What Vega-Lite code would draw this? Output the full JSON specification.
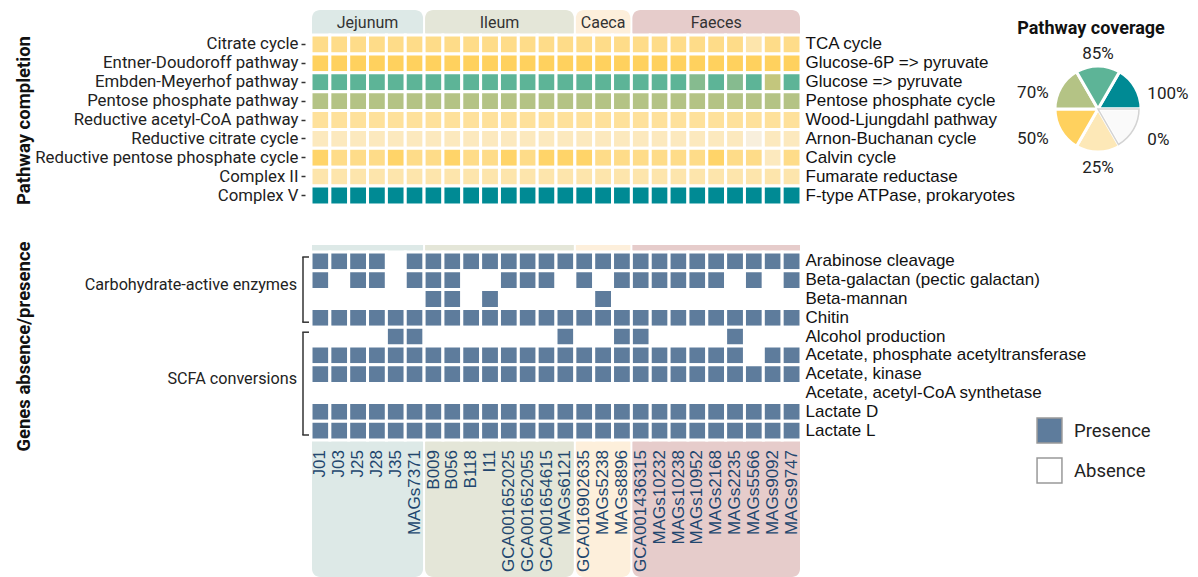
{
"$schema": "https://vega.github.io/schema/vega-lite/v6.json",
"padding": {"left": 14, "top": 10, "right": 0, "bottom": 0},
"bounds": "flush",
"spacing": 707,
"config": {"view": {"stroke": null}, "axis": {"grid": false, "domain": false}, "font": "Roboto"},
"datasets": {
"groups": [
{"grp":"Jejunum","start":"J01","end":"MAGs7371","mid":"J25","even":true},
{"grp":"Ileum","start":"B009","end":"MAGs6121","mid":"I11","even":true},
{"grp":"Caeca","start":"GCA016902635","end":"MAGs8896","mid":"MAGs5238","even":false},
{"grp":"Faeces","start":"GCA001436315","end":"MAGs9747","mid":"MAGs2168","even":false}],
"samples": [{"s":"J01"},{"s":"J03"},{"s":"J25"},{"s":"J28"},{"s":"J35"},{"s":"MAGs7371"},{"s":"B009"},{"s":"B056"},{"s":"B118"},{"s":"I11"},{"s":"GCA001652025"},{"s":"GCA001652055"},{"s":"GCA001654615"},{"s":"MAGs6121"},{"s":"GCA016902635"},{"s":"MAGs5238"},{"s":"MAGs8896"},{"s":"GCA001436315"},{"s":"MAGs10232"},{"s":"MAGs10238"},{"s":"MAGs10952"},{"s":"MAGs2168"},{"s":"MAGs2235"},{"s":"MAGs5566"},{"s":"MAGs9092"},{"s":"MAGs9747"}],
"mods": [{"m":"TCA cycle"},{"m":"Glucose-6P => pyruvate"},{"m":"Glucose => pyruvate"},{"m":"Pentose phosphate cycle"},{"m":"Wood-Ljungdahl pathway"},{"m":"Arnon-Buchanan cycle"},{"m":"Calvin cycle"},{"m":"Fumarate reductase"},{"m":"F-type ATPase, prokaryotes"}],
"brackets": [
{"grp":"Carbohydrate-active enzymes","first":"Arabinose cleavage","last":"Chitin","mid":"Beta-galactan (pectic galactan)"},
{"grp":"SCFA conversions","first":"Alcohol production","last":"Lactate L","mid":"Acetate, kinase"}],
"pie": [{"level":"100%","n":1},{"level":"0%","n":1},{"level":"25%","n":1},{"level":"50%","n":1},{"level":"70%","n":1},{"level":"85%","n":1}],
"heat": [
{"s":"J01","p":"Citrate cycle","v":38},{"s":"J03","p":"Citrate cycle","v":38},{"s":"J25","p":"Citrate cycle","v":38},{"s":"J28","p":"Citrate cycle","v":38},{"s":"J35","p":"Citrate cycle","v":38},{"s":"MAGs7371","p":"Citrate cycle","v":38},{"s":"B009","p":"Citrate cycle","v":38},{"s":"B056","p":"Citrate cycle","v":38},{"s":"B118","p":"Citrate cycle","v":38},{"s":"I11","p":"Citrate cycle","v":38},{"s":"GCA001652025","p":"Citrate cycle","v":38},{"s":"GCA001652055","p":"Citrate cycle","v":38},{"s":"GCA001654615","p":"Citrate cycle","v":38},{"s":"MAGs6121","p":"Citrate cycle","v":38},{"s":"GCA016902635","p":"Citrate cycle","v":38},{"s":"MAGs5238","p":"Citrate cycle","v":38},{"s":"MAGs8896","p":"Citrate cycle","v":38},{"s":"GCA001436315","p":"Citrate cycle","v":38},{"s":"MAGs10232","p":"Citrate cycle","v":38},{"s":"MAGs10238","p":"Citrate cycle","v":38},{"s":"MAGs10952","p":"Citrate cycle","v":38},{"s":"MAGs2168","p":"Citrate cycle","v":38},{"s":"MAGs2235","p":"Citrate cycle","v":38},{"s":"MAGs5566","p":"Citrate cycle","v":28},{"s":"MAGs9092","p":"Citrate cycle","v":38},{"s":"MAGs9747","p":"Citrate cycle","v":38},
{"s":"J01","p":"Entner-Doudoroff pathway","v":50},{"s":"J03","p":"Entner-Doudoroff pathway","v":50},{"s":"J25","p":"Entner-Doudoroff pathway","v":50},{"s":"J28","p":"Entner-Doudoroff pathway","v":50},{"s":"J35","p":"Entner-Doudoroff pathway","v":50},{"s":"MAGs7371","p":"Entner-Doudoroff pathway","v":50},{"s":"B009","p":"Entner-Doudoroff pathway","v":50},{"s":"B056","p":"Entner-Doudoroff pathway","v":50},{"s":"B118","p":"Entner-Doudoroff pathway","v":50},{"s":"I11","p":"Entner-Doudoroff pathway","v":50},{"s":"GCA001652025","p":"Entner-Doudoroff pathway","v":50},{"s":"GCA001652055","p":"Entner-Doudoroff pathway","v":50},{"s":"GCA001654615","p":"Entner-Doudoroff pathway","v":50},{"s":"MAGs6121","p":"Entner-Doudoroff pathway","v":50},{"s":"GCA016902635","p":"Entner-Doudoroff pathway","v":50},{"s":"MAGs5238","p":"Entner-Doudoroff pathway","v":50},{"s":"MAGs8896","p":"Entner-Doudoroff pathway","v":50},{"s":"GCA001436315","p":"Entner-Doudoroff pathway","v":50},{"s":"MAGs10232","p":"Entner-Doudoroff pathway","v":50},{"s":"MAGs10238","p":"Entner-Doudoroff pathway","v":50},{"s":"MAGs10952","p":"Entner-Doudoroff pathway","v":50},{"s":"MAGs2168","p":"Entner-Doudoroff pathway","v":50},{"s":"MAGs2235","p":"Entner-Doudoroff pathway","v":50},{"s":"MAGs5566","p":"Entner-Doudoroff pathway","v":50},{"s":"MAGs9092","p":"Entner-Doudoroff pathway","v":50},{"s":"MAGs9747","p":"Entner-Doudoroff pathway","v":50},
{"s":"J01","p":"Embden-Meyerhof pathway","v":85},{"s":"J03","p":"Embden-Meyerhof pathway","v":85},{"s":"J25","p":"Embden-Meyerhof pathway","v":85},{"s":"J28","p":"Embden-Meyerhof pathway","v":85},{"s":"J35","p":"Embden-Meyerhof pathway","v":85},{"s":"MAGs7371","p":"Embden-Meyerhof pathway","v":85},{"s":"B009","p":"Embden-Meyerhof pathway","v":85},{"s":"B056","p":"Embden-Meyerhof pathway","v":85},{"s":"B118","p":"Embden-Meyerhof pathway","v":85},{"s":"I11","p":"Embden-Meyerhof pathway","v":85},{"s":"GCA001652025","p":"Embden-Meyerhof pathway","v":85},{"s":"GCA001652055","p":"Embden-Meyerhof pathway","v":85},{"s":"GCA001654615","p":"Embden-Meyerhof pathway","v":85},{"s":"MAGs6121","p":"Embden-Meyerhof pathway","v":85},{"s":"GCA016902635","p":"Embden-Meyerhof pathway","v":85},{"s":"MAGs5238","p":"Embden-Meyerhof pathway","v":85},{"s":"MAGs8896","p":"Embden-Meyerhof pathway","v":85},{"s":"GCA001436315","p":"Embden-Meyerhof pathway","v":85},{"s":"MAGs10232","p":"Embden-Meyerhof pathway","v":85},{"s":"MAGs10238","p":"Embden-Meyerhof pathway","v":85},{"s":"MAGs10952","p":"Embden-Meyerhof pathway","v":78},{"s":"MAGs2168","p":"Embden-Meyerhof pathway","v":85},{"s":"MAGs2235","p":"Embden-Meyerhof pathway","v":78},{"s":"MAGs5566","p":"Embden-Meyerhof pathway","v":85},{"s":"MAGs9092","p":"Embden-Meyerhof pathway","v":66},{"s":"MAGs9747","p":"Embden-Meyerhof pathway","v":85},
{"s":"J01","p":"Pentose phosphate pathway","v":70},{"s":"J03","p":"Pentose phosphate pathway","v":70},{"s":"J25","p":"Pentose phosphate pathway","v":70},{"s":"J28","p":"Pentose phosphate pathway","v":70},{"s":"J35","p":"Pentose phosphate pathway","v":70},{"s":"MAGs7371","p":"Pentose phosphate pathway","v":70},{"s":"B009","p":"Pentose phosphate pathway","v":70},{"s":"B056","p":"Pentose phosphate pathway","v":70},{"s":"B118","p":"Pentose phosphate pathway","v":70},{"s":"I11","p":"Pentose phosphate pathway","v":70},{"s":"GCA001652025","p":"Pentose phosphate pathway","v":70},{"s":"GCA001652055","p":"Pentose phosphate pathway","v":70},{"s":"GCA001654615","p":"Pentose phosphate pathway","v":70},{"s":"MAGs6121","p":"Pentose phosphate pathway","v":70},{"s":"GCA016902635","p":"Pentose phosphate pathway","v":70},{"s":"MAGs5238","p":"Pentose phosphate pathway","v":70},{"s":"MAGs8896","p":"Pentose phosphate pathway","v":70},{"s":"GCA001436315","p":"Pentose phosphate pathway","v":70},{"s":"MAGs10232","p":"Pentose phosphate pathway","v":70},{"s":"MAGs10238","p":"Pentose phosphate pathway","v":70},{"s":"MAGs10952","p":"Pentose phosphate pathway","v":70},{"s":"MAGs2168","p":"Pentose phosphate pathway","v":70},{"s":"MAGs2235","p":"Pentose phosphate pathway","v":70},{"s":"MAGs5566","p":"Pentose phosphate pathway","v":70},{"s":"MAGs9092","p":"Pentose phosphate pathway","v":70},{"s":"MAGs9747","p":"Pentose phosphate pathway","v":70},
{"s":"J01","p":"Reductive acetyl-CoA pathway","v":33},{"s":"J03","p":"Reductive acetyl-CoA pathway","v":33},{"s":"J25","p":"Reductive acetyl-CoA pathway","v":33},{"s":"J28","p":"Reductive acetyl-CoA pathway","v":33},{"s":"J35","p":"Reductive acetyl-CoA pathway","v":33},{"s":"MAGs7371","p":"Reductive acetyl-CoA pathway","v":33},{"s":"B009","p":"Reductive acetyl-CoA pathway","v":33},{"s":"B056","p":"Reductive acetyl-CoA pathway","v":33},{"s":"B118","p":"Reductive acetyl-CoA pathway","v":33},{"s":"I11","p":"Reductive acetyl-CoA pathway","v":33},{"s":"GCA001652025","p":"Reductive acetyl-CoA pathway","v":33},{"s":"GCA001652055","p":"Reductive acetyl-CoA pathway","v":33},{"s":"GCA001654615","p":"Reductive acetyl-CoA pathway","v":33},{"s":"MAGs6121","p":"Reductive acetyl-CoA pathway","v":33},{"s":"GCA016902635","p":"Reductive acetyl-CoA pathway","v":33},{"s":"MAGs5238","p":"Reductive acetyl-CoA pathway","v":33},{"s":"MAGs8896","p":"Reductive acetyl-CoA pathway","v":33},{"s":"GCA001436315","p":"Reductive acetyl-CoA pathway","v":33},{"s":"MAGs10232","p":"Reductive acetyl-CoA pathway","v":33},{"s":"MAGs10238","p":"Reductive acetyl-CoA pathway","v":33},{"s":"MAGs10952","p":"Reductive acetyl-CoA pathway","v":33},{"s":"MAGs2168","p":"Reductive acetyl-CoA pathway","v":33},{"s":"MAGs2235","p":"Reductive acetyl-CoA pathway","v":33},{"s":"MAGs5566","p":"Reductive acetyl-CoA pathway","v":33},{"s":"MAGs9092","p":"Reductive acetyl-CoA pathway","v":33},{"s":"MAGs9747","p":"Reductive acetyl-CoA pathway","v":33},
{"s":"J01","p":"Reductive citrate cycle","v":22},{"s":"J03","p":"Reductive citrate cycle","v":22},{"s":"J25","p":"Reductive citrate cycle","v":22},{"s":"J28","p":"Reductive citrate cycle","v":22},{"s":"J35","p":"Reductive citrate cycle","v":22},{"s":"MAGs7371","p":"Reductive citrate cycle","v":22},{"s":"B009","p":"Reductive citrate cycle","v":22},{"s":"B056","p":"Reductive citrate cycle","v":22},{"s":"B118","p":"Reductive citrate cycle","v":22},{"s":"I11","p":"Reductive citrate cycle","v":22},{"s":"GCA001652025","p":"Reductive citrate cycle","v":22},{"s":"GCA001652055","p":"Reductive citrate cycle","v":22},{"s":"GCA001654615","p":"Reductive citrate cycle","v":22},{"s":"MAGs6121","p":"Reductive citrate cycle","v":22},{"s":"GCA016902635","p":"Reductive citrate cycle","v":22},{"s":"MAGs5238","p":"Reductive citrate cycle","v":22},{"s":"MAGs8896","p":"Reductive citrate cycle","v":22},{"s":"GCA001436315","p":"Reductive citrate cycle","v":22},{"s":"MAGs10232","p":"Reductive citrate cycle","v":22},{"s":"MAGs10238","p":"Reductive citrate cycle","v":22},{"s":"MAGs10952","p":"Reductive citrate cycle","v":22},{"s":"MAGs2168","p":"Reductive citrate cycle","v":22},{"s":"MAGs2235","p":"Reductive citrate cycle","v":22},{"s":"MAGs5566","p":"Reductive citrate cycle","v":10},{"s":"MAGs9092","p":"Reductive citrate cycle","v":22},{"s":"MAGs9747","p":"Reductive citrate cycle","v":22},
{"s":"J01","p":"Reductive pentose phosphate cycle","v":47},{"s":"J03","p":"Reductive pentose phosphate cycle","v":38},{"s":"J25","p":"Reductive pentose phosphate cycle","v":38},{"s":"J28","p":"Reductive pentose phosphate cycle","v":38},{"s":"J35","p":"Reductive pentose phosphate cycle","v":47},{"s":"MAGs7371","p":"Reductive pentose phosphate cycle","v":38},{"s":"B009","p":"Reductive pentose phosphate cycle","v":38},{"s":"B056","p":"Reductive pentose phosphate cycle","v":47},{"s":"B118","p":"Reductive pentose phosphate cycle","v":38},{"s":"I11","p":"Reductive pentose phosphate cycle","v":38},{"s":"GCA001652025","p":"Reductive pentose phosphate cycle","v":47},{"s":"GCA001652055","p":"Reductive pentose phosphate cycle","v":38},{"s":"GCA001654615","p":"Reductive pentose phosphate cycle","v":47},{"s":"MAGs6121","p":"Reductive pentose phosphate cycle","v":47},{"s":"GCA016902635","p":"Reductive pentose phosphate cycle","v":47},{"s":"MAGs5238","p":"Reductive pentose phosphate cycle","v":38},{"s":"MAGs8896","p":"Reductive pentose phosphate cycle","v":38},{"s":"GCA001436315","p":"Reductive pentose phosphate cycle","v":38},{"s":"MAGs10232","p":"Reductive pentose phosphate cycle","v":38},{"s":"MAGs10238","p":"Reductive pentose phosphate cycle","v":38},{"s":"MAGs10952","p":"Reductive pentose phosphate cycle","v":38},{"s":"MAGs2168","p":"Reductive pentose phosphate cycle","v":47},{"s":"MAGs2235","p":"Reductive pentose phosphate cycle","v":38},{"s":"MAGs5566","p":"Reductive pentose phosphate cycle","v":38},{"s":"MAGs9092","p":"Reductive pentose phosphate cycle","v":22},{"s":"MAGs9747","p":"Reductive pentose phosphate cycle","v":38},
{"s":"J01","p":"Complex II","v":28},{"s":"J03","p":"Complex II","v":28},{"s":"J25","p":"Complex II","v":28},{"s":"J28","p":"Complex II","v":28},{"s":"J35","p":"Complex II","v":28},{"s":"MAGs7371","p":"Complex II","v":28},{"s":"B009","p":"Complex II","v":28},{"s":"B056","p":"Complex II","v":28},{"s":"B118","p":"Complex II","v":28},{"s":"I11","p":"Complex II","v":28},{"s":"GCA001652025","p":"Complex II","v":28},{"s":"GCA001652055","p":"Complex II","v":28},{"s":"GCA001654615","p":"Complex II","v":28},{"s":"MAGs6121","p":"Complex II","v":28},{"s":"GCA016902635","p":"Complex II","v":28},{"s":"MAGs5238","p":"Complex II","v":28},{"s":"MAGs8896","p":"Complex II","v":28},{"s":"GCA001436315","p":"Complex II","v":28},{"s":"MAGs10232","p":"Complex II","v":28},{"s":"MAGs10238","p":"Complex II","v":28},{"s":"MAGs10952","p":"Complex II","v":28},{"s":"MAGs2168","p":"Complex II","v":28},{"s":"MAGs2235","p":"Complex II","v":28},{"s":"MAGs5566","p":"Complex II","v":28},{"s":"MAGs9092","p":"Complex II","v":28},{"s":"MAGs9747","p":"Complex II","v":28},
{"s":"J01","p":"Complex V","v":100},{"s":"J03","p":"Complex V","v":100},{"s":"J25","p":"Complex V","v":100},{"s":"J28","p":"Complex V","v":100},{"s":"J35","p":"Complex V","v":100},{"s":"MAGs7371","p":"Complex V","v":100},{"s":"B009","p":"Complex V","v":100},{"s":"B056","p":"Complex V","v":100},{"s":"B118","p":"Complex V","v":100},{"s":"I11","p":"Complex V","v":100},{"s":"GCA001652025","p":"Complex V","v":100},{"s":"GCA001652055","p":"Complex V","v":100},{"s":"GCA001654615","p":"Complex V","v":100},{"s":"MAGs6121","p":"Complex V","v":100},{"s":"GCA016902635","p":"Complex V","v":100},{"s":"MAGs5238","p":"Complex V","v":100},{"s":"MAGs8896","p":"Complex V","v":100},{"s":"GCA001436315","p":"Complex V","v":100},{"s":"MAGs10232","p":"Complex V","v":100},{"s":"MAGs10238","p":"Complex V","v":100},{"s":"MAGs10952","p":"Complex V","v":100},{"s":"MAGs2168","p":"Complex V","v":100},{"s":"MAGs2235","p":"Complex V","v":100},{"s":"MAGs5566","p":"Complex V","v":100},{"s":"MAGs9092","p":"Complex V","v":100},{"s":"MAGs9747","p":"Complex V","v":100}
],
"genes": [
{"s":"J01","g":"Arabinose cleavage","st":"Presence"},{"s":"J03","g":"Arabinose cleavage","st":"Presence"},{"s":"J25","g":"Arabinose cleavage","st":"Presence"},{"s":"J28","g":"Arabinose cleavage","st":"Presence"},{"s":"J35","g":"Arabinose cleavage","st":"Absence"},{"s":"MAGs7371","g":"Arabinose cleavage","st":"Presence"},{"s":"B009","g":"Arabinose cleavage","st":"Presence"},{"s":"B056","g":"Arabinose cleavage","st":"Presence"},{"s":"B118","g":"Arabinose cleavage","st":"Presence"},{"s":"I11","g":"Arabinose cleavage","st":"Presence"},{"s":"GCA001652025","g":"Arabinose cleavage","st":"Presence"},{"s":"GCA001652055","g":"Arabinose cleavage","st":"Presence"},{"s":"GCA001654615","g":"Arabinose cleavage","st":"Presence"},{"s":"MAGs6121","g":"Arabinose cleavage","st":"Presence"},{"s":"GCA016902635","g":"Arabinose cleavage","st":"Presence"},{"s":"MAGs5238","g":"Arabinose cleavage","st":"Presence"},{"s":"MAGs8896","g":"Arabinose cleavage","st":"Presence"},{"s":"GCA001436315","g":"Arabinose cleavage","st":"Presence"},{"s":"MAGs10232","g":"Arabinose cleavage","st":"Presence"},{"s":"MAGs10238","g":"Arabinose cleavage","st":"Presence"},{"s":"MAGs10952","g":"Arabinose cleavage","st":"Presence"},{"s":"MAGs2168","g":"Arabinose cleavage","st":"Presence"},{"s":"MAGs2235","g":"Arabinose cleavage","st":"Presence"},{"s":"MAGs5566","g":"Arabinose cleavage","st":"Presence"},{"s":"MAGs9092","g":"Arabinose cleavage","st":"Presence"},{"s":"MAGs9747","g":"Arabinose cleavage","st":"Presence"},
{"s":"J01","g":"Beta-galactan (pectic galactan)","st":"Presence"},{"s":"J03","g":"Beta-galactan (pectic galactan)","st":"Absence"},{"s":"J25","g":"Beta-galactan (pectic galactan)","st":"Presence"},{"s":"J28","g":"Beta-galactan (pectic galactan)","st":"Presence"},{"s":"J35","g":"Beta-galactan (pectic galactan)","st":"Absence"},{"s":"MAGs7371","g":"Beta-galactan (pectic galactan)","st":"Presence"},{"s":"B009","g":"Beta-galactan (pectic galactan)","st":"Presence"},{"s":"B056","g":"Beta-galactan (pectic galactan)","st":"Presence"},{"s":"B118","g":"Beta-galactan (pectic galactan)","st":"Absence"},{"s":"I11","g":"Beta-galactan (pectic galactan)","st":"Absence"},{"s":"GCA001652025","g":"Beta-galactan (pectic galactan)","st":"Presence"},{"s":"GCA001652055","g":"Beta-galactan (pectic galactan)","st":"Presence"},{"s":"GCA001654615","g":"Beta-galactan (pectic galactan)","st":"Presence"},{"s":"MAGs6121","g":"Beta-galactan (pectic galactan)","st":"Absence"},{"s":"GCA016902635","g":"Beta-galactan (pectic galactan)","st":"Presence"},{"s":"MAGs5238","g":"Beta-galactan (pectic galactan)","st":"Absence"},{"s":"MAGs8896","g":"Beta-galactan (pectic galactan)","st":"Presence"},{"s":"GCA001436315","g":"Beta-galactan (pectic galactan)","st":"Presence"},{"s":"MAGs10232","g":"Beta-galactan (pectic galactan)","st":"Presence"},{"s":"MAGs10238","g":"Beta-galactan (pectic galactan)","st":"Presence"},{"s":"MAGs10952","g":"Beta-galactan (pectic galactan)","st":"Presence"},{"s":"MAGs2168","g":"Beta-galactan (pectic galactan)","st":"Presence"},{"s":"MAGs2235","g":"Beta-galactan (pectic galactan)","st":"Absence"},{"s":"MAGs5566","g":"Beta-galactan (pectic galactan)","st":"Presence"},{"s":"MAGs9092","g":"Beta-galactan (pectic galactan)","st":"Absence"},{"s":"MAGs9747","g":"Beta-galactan (pectic galactan)","st":"Presence"},
{"s":"J01","g":"Beta-mannan","st":"Absence"},{"s":"J03","g":"Beta-mannan","st":"Absence"},{"s":"J25","g":"Beta-mannan","st":"Absence"},{"s":"J28","g":"Beta-mannan","st":"Absence"},{"s":"J35","g":"Beta-mannan","st":"Absence"},{"s":"MAGs7371","g":"Beta-mannan","st":"Absence"},{"s":"B009","g":"Beta-mannan","st":"Presence"},{"s":"B056","g":"Beta-mannan","st":"Presence"},{"s":"B118","g":"Beta-mannan","st":"Absence"},{"s":"I11","g":"Beta-mannan","st":"Presence"},{"s":"GCA001652025","g":"Beta-mannan","st":"Absence"},{"s":"GCA001652055","g":"Beta-mannan","st":"Absence"},{"s":"GCA001654615","g":"Beta-mannan","st":"Absence"},{"s":"MAGs6121","g":"Beta-mannan","st":"Absence"},{"s":"GCA016902635","g":"Beta-mannan","st":"Absence"},{"s":"MAGs5238","g":"Beta-mannan","st":"Presence"},{"s":"MAGs8896","g":"Beta-mannan","st":"Absence"},{"s":"GCA001436315","g":"Beta-mannan","st":"Absence"},{"s":"MAGs10232","g":"Beta-mannan","st":"Absence"},{"s":"MAGs10238","g":"Beta-mannan","st":"Absence"},{"s":"MAGs10952","g":"Beta-mannan","st":"Absence"},{"s":"MAGs2168","g":"Beta-mannan","st":"Absence"},{"s":"MAGs2235","g":"Beta-mannan","st":"Absence"},{"s":"MAGs5566","g":"Beta-mannan","st":"Absence"},{"s":"MAGs9092","g":"Beta-mannan","st":"Absence"},{"s":"MAGs9747","g":"Beta-mannan","st":"Absence"},
{"s":"J01","g":"Chitin","st":"Presence"},{"s":"J03","g":"Chitin","st":"Presence"},{"s":"J25","g":"Chitin","st":"Presence"},{"s":"J28","g":"Chitin","st":"Presence"},{"s":"J35","g":"Chitin","st":"Presence"},{"s":"MAGs7371","g":"Chitin","st":"Presence"},{"s":"B009","g":"Chitin","st":"Presence"},{"s":"B056","g":"Chitin","st":"Presence"},{"s":"B118","g":"Chitin","st":"Presence"},{"s":"I11","g":"Chitin","st":"Presence"},{"s":"GCA001652025","g":"Chitin","st":"Presence"},{"s":"GCA001652055","g":"Chitin","st":"Presence"},{"s":"GCA001654615","g":"Chitin","st":"Presence"},{"s":"MAGs6121","g":"Chitin","st":"Presence"},{"s":"GCA016902635","g":"Chitin","st":"Presence"},{"s":"MAGs5238","g":"Chitin","st":"Presence"},{"s":"MAGs8896","g":"Chitin","st":"Presence"},{"s":"GCA001436315","g":"Chitin","st":"Presence"},{"s":"MAGs10232","g":"Chitin","st":"Presence"},{"s":"MAGs10238","g":"Chitin","st":"Presence"},{"s":"MAGs10952","g":"Chitin","st":"Presence"},{"s":"MAGs2168","g":"Chitin","st":"Presence"},{"s":"MAGs2235","g":"Chitin","st":"Presence"},{"s":"MAGs5566","g":"Chitin","st":"Presence"},{"s":"MAGs9092","g":"Chitin","st":"Presence"},{"s":"MAGs9747","g":"Chitin","st":"Presence"},
{"s":"J01","g":"Alcohol production","st":"Absence"},{"s":"J03","g":"Alcohol production","st":"Absence"},{"s":"J25","g":"Alcohol production","st":"Absence"},{"s":"J28","g":"Alcohol production","st":"Absence"},{"s":"J35","g":"Alcohol production","st":"Presence"},{"s":"MAGs7371","g":"Alcohol production","st":"Presence"},{"s":"B009","g":"Alcohol production","st":"Absence"},{"s":"B056","g":"Alcohol production","st":"Absence"},{"s":"B118","g":"Alcohol production","st":"Absence"},{"s":"I11","g":"Alcohol production","st":"Absence"},{"s":"GCA001652025","g":"Alcohol production","st":"Absence"},{"s":"GCA001652055","g":"Alcohol production","st":"Absence"},{"s":"GCA001654615","g":"Alcohol production","st":"Absence"},{"s":"MAGs6121","g":"Alcohol production","st":"Presence"},{"s":"GCA016902635","g":"Alcohol production","st":"Absence"},{"s":"MAGs5238","g":"Alcohol production","st":"Absence"},{"s":"MAGs8896","g":"Alcohol production","st":"Presence"},{"s":"GCA001436315","g":"Alcohol production","st":"Presence"},{"s":"MAGs10232","g":"Alcohol production","st":"Absence"},{"s":"MAGs10238","g":"Alcohol production","st":"Absence"},{"s":"MAGs10952","g":"Alcohol production","st":"Absence"},{"s":"MAGs2168","g":"Alcohol production","st":"Absence"},{"s":"MAGs2235","g":"Alcohol production","st":"Presence"},{"s":"MAGs5566","g":"Alcohol production","st":"Absence"},{"s":"MAGs9092","g":"Alcohol production","st":"Absence"},{"s":"MAGs9747","g":"Alcohol production","st":"Absence"},
{"s":"J01","g":"Acetate, phosphate acetyltransferase","st":"Presence"},{"s":"J03","g":"Acetate, phosphate acetyltransferase","st":"Presence"},{"s":"J25","g":"Acetate, phosphate acetyltransferase","st":"Presence"},{"s":"J28","g":"Acetate, phosphate acetyltransferase","st":"Presence"},{"s":"J35","g":"Acetate, phosphate acetyltransferase","st":"Presence"},{"s":"MAGs7371","g":"Acetate, phosphate acetyltransferase","st":"Presence"},{"s":"B009","g":"Acetate, phosphate acetyltransferase","st":"Presence"},{"s":"B056","g":"Acetate, phosphate acetyltransferase","st":"Presence"},{"s":"B118","g":"Acetate, phosphate acetyltransferase","st":"Presence"},{"s":"I11","g":"Acetate, phosphate acetyltransferase","st":"Presence"},{"s":"GCA001652025","g":"Acetate, phosphate acetyltransferase","st":"Presence"},{"s":"GCA001652055","g":"Acetate, phosphate acetyltransferase","st":"Presence"},{"s":"GCA001654615","g":"Acetate, phosphate acetyltransferase","st":"Presence"},{"s":"MAGs6121","g":"Acetate, phosphate acetyltransferase","st":"Presence"},{"s":"GCA016902635","g":"Acetate, phosphate acetyltransferase","st":"Presence"},{"s":"MAGs5238","g":"Acetate, phosphate acetyltransferase","st":"Presence"},{"s":"MAGs8896","g":"Acetate, phosphate acetyltransferase","st":"Presence"},{"s":"GCA001436315","g":"Acetate, phosphate acetyltransferase","st":"Presence"},{"s":"MAGs10232","g":"Acetate, phosphate acetyltransferase","st":"Presence"},{"s":"MAGs10238","g":"Acetate, phosphate acetyltransferase","st":"Presence"},{"s":"MAGs10952","g":"Acetate, phosphate acetyltransferase","st":"Presence"},{"s":"MAGs2168","g":"Acetate, phosphate acetyltransferase","st":"Presence"},{"s":"MAGs2235","g":"Acetate, phosphate acetyltransferase","st":"Presence"},{"s":"MAGs5566","g":"Acetate, phosphate acetyltransferase","st":"Absence"},{"s":"MAGs9092","g":"Acetate, phosphate acetyltransferase","st":"Presence"},{"s":"MAGs9747","g":"Acetate, phosphate acetyltransferase","st":"Presence"},
{"s":"J01","g":"Acetate, kinase","st":"Presence"},{"s":"J03","g":"Acetate, kinase","st":"Presence"},{"s":"J25","g":"Acetate, kinase","st":"Presence"},{"s":"J28","g":"Acetate, kinase","st":"Presence"},{"s":"J35","g":"Acetate, kinase","st":"Presence"},{"s":"MAGs7371","g":"Acetate, kinase","st":"Presence"},{"s":"B009","g":"Acetate, kinase","st":"Presence"},{"s":"B056","g":"Acetate, kinase","st":"Presence"},{"s":"B118","g":"Acetate, kinase","st":"Presence"},{"s":"I11","g":"Acetate, kinase","st":"Presence"},{"s":"GCA001652025","g":"Acetate, kinase","st":"Presence"},{"s":"GCA001652055","g":"Acetate, kinase","st":"Presence"},{"s":"GCA001654615","g":"Acetate, kinase","st":"Presence"},{"s":"MAGs6121","g":"Acetate, kinase","st":"Presence"},{"s":"GCA016902635","g":"Acetate, kinase","st":"Presence"},{"s":"MAGs5238","g":"Acetate, kinase","st":"Presence"},{"s":"MAGs8896","g":"Acetate, kinase","st":"Presence"},{"s":"GCA001436315","g":"Acetate, kinase","st":"Presence"},{"s":"MAGs10232","g":"Acetate, kinase","st":"Presence"},{"s":"MAGs10238","g":"Acetate, kinase","st":"Presence"},{"s":"MAGs10952","g":"Acetate, kinase","st":"Presence"},{"s":"MAGs2168","g":"Acetate, kinase","st":"Presence"},{"s":"MAGs2235","g":"Acetate, kinase","st":"Presence"},{"s":"MAGs5566","g":"Acetate, kinase","st":"Presence"},{"s":"MAGs9092","g":"Acetate, kinase","st":"Presence"},{"s":"MAGs9747","g":"Acetate, kinase","st":"Presence"},
{"s":"J01","g":"Acetate, acetyl-CoA synthetase","st":"Absence"},{"s":"J03","g":"Acetate, acetyl-CoA synthetase","st":"Absence"},{"s":"J25","g":"Acetate, acetyl-CoA synthetase","st":"Absence"},{"s":"J28","g":"Acetate, acetyl-CoA synthetase","st":"Absence"},{"s":"J35","g":"Acetate, acetyl-CoA synthetase","st":"Absence"},{"s":"MAGs7371","g":"Acetate, acetyl-CoA synthetase","st":"Absence"},{"s":"B009","g":"Acetate, acetyl-CoA synthetase","st":"Absence"},{"s":"B056","g":"Acetate, acetyl-CoA synthetase","st":"Absence"},{"s":"B118","g":"Acetate, acetyl-CoA synthetase","st":"Absence"},{"s":"I11","g":"Acetate, acetyl-CoA synthetase","st":"Absence"},{"s":"GCA001652025","g":"Acetate, acetyl-CoA synthetase","st":"Absence"},{"s":"GCA001652055","g":"Acetate, acetyl-CoA synthetase","st":"Absence"},{"s":"GCA001654615","g":"Acetate, acetyl-CoA synthetase","st":"Absence"},{"s":"MAGs6121","g":"Acetate, acetyl-CoA synthetase","st":"Absence"},{"s":"GCA016902635","g":"Acetate, acetyl-CoA synthetase","st":"Absence"},{"s":"MAGs5238","g":"Acetate, acetyl-CoA synthetase","st":"Absence"},{"s":"MAGs8896","g":"Acetate, acetyl-CoA synthetase","st":"Absence"},{"s":"GCA001436315","g":"Acetate, acetyl-CoA synthetase","st":"Absence"},{"s":"MAGs10232","g":"Acetate, acetyl-CoA synthetase","st":"Absence"},{"s":"MAGs10238","g":"Acetate, acetyl-CoA synthetase","st":"Absence"},{"s":"MAGs10952","g":"Acetate, acetyl-CoA synthetase","st":"Absence"},{"s":"MAGs2168","g":"Acetate, acetyl-CoA synthetase","st":"Absence"},{"s":"MAGs2235","g":"Acetate, acetyl-CoA synthetase","st":"Absence"},{"s":"MAGs5566","g":"Acetate, acetyl-CoA synthetase","st":"Absence"},{"s":"MAGs9092","g":"Acetate, acetyl-CoA synthetase","st":"Absence"},{"s":"MAGs9747","g":"Acetate, acetyl-CoA synthetase","st":"Absence"},
{"s":"J01","g":"Lactate D","st":"Presence"},{"s":"J03","g":"Lactate D","st":"Presence"},{"s":"J25","g":"Lactate D","st":"Presence"},{"s":"J28","g":"Lactate D","st":"Presence"},{"s":"J35","g":"Lactate D","st":"Presence"},{"s":"MAGs7371","g":"Lactate D","st":"Presence"},{"s":"B009","g":"Lactate D","st":"Presence"},{"s":"B056","g":"Lactate D","st":"Presence"},{"s":"B118","g":"Lactate D","st":"Presence"},{"s":"I11","g":"Lactate D","st":"Presence"},{"s":"GCA001652025","g":"Lactate D","st":"Presence"},{"s":"GCA001652055","g":"Lactate D","st":"Presence"},{"s":"GCA001654615","g":"Lactate D","st":"Presence"},{"s":"MAGs6121","g":"Lactate D","st":"Presence"},{"s":"GCA016902635","g":"Lactate D","st":"Presence"},{"s":"MAGs5238","g":"Lactate D","st":"Presence"},{"s":"MAGs8896","g":"Lactate D","st":"Presence"},{"s":"GCA001436315","g":"Lactate D","st":"Presence"},{"s":"MAGs10232","g":"Lactate D","st":"Presence"},{"s":"MAGs10238","g":"Lactate D","st":"Presence"},{"s":"MAGs10952","g":"Lactate D","st":"Presence"},{"s":"MAGs2168","g":"Lactate D","st":"Presence"},{"s":"MAGs2235","g":"Lactate D","st":"Presence"},{"s":"MAGs5566","g":"Lactate D","st":"Presence"},{"s":"MAGs9092","g":"Lactate D","st":"Presence"},{"s":"MAGs9747","g":"Lactate D","st":"Presence"},
{"s":"J01","g":"Lactate L","st":"Presence"},{"s":"J03","g":"Lactate L","st":"Presence"},{"s":"J25","g":"Lactate L","st":"Presence"},{"s":"J28","g":"Lactate L","st":"Presence"},{"s":"J35","g":"Lactate L","st":"Presence"},{"s":"MAGs7371","g":"Lactate L","st":"Presence"},{"s":"B009","g":"Lactate L","st":"Presence"},{"s":"B056","g":"Lactate L","st":"Presence"},{"s":"B118","g":"Lactate L","st":"Presence"},{"s":"I11","g":"Lactate L","st":"Presence"},{"s":"GCA001652025","g":"Lactate L","st":"Presence"},{"s":"GCA001652055","g":"Lactate L","st":"Presence"},{"s":"GCA001654615","g":"Lactate L","st":"Presence"},{"s":"MAGs6121","g":"Lactate L","st":"Presence"},{"s":"GCA016902635","g":"Lactate L","st":"Presence"},{"s":"MAGs5238","g":"Lactate L","st":"Presence"},{"s":"MAGs8896","g":"Lactate L","st":"Presence"},{"s":"GCA001436315","g":"Lactate L","st":"Presence"},{"s":"MAGs10232","g":"Lactate L","st":"Presence"},{"s":"MAGs10238","g":"Lactate L","st":"Presence"},{"s":"MAGs10952","g":"Lactate L","st":"Presence"},{"s":"MAGs2168","g":"Lactate L","st":"Presence"},{"s":"MAGs2235","g":"Lactate L","st":"Presence"},{"s":"MAGs5566","g":"Lactate L","st":"Presence"},{"s":"MAGs9092","g":"Lactate L","st":"Presence"},{"s":"MAGs9747","g":"Lactate L","st":"Presence"}
]
},
"hconcat": [
{"bounds": "flush", "spacing": 0, "vconcat": [
  {"width": 490, "height": 25, "data": {"name": "groups"},
   "layer": [
    {"mark": {"type": "rect", "cornerRadiusTopLeft": 8, "cornerRadiusTopRight": 8, "xOffset": 1, "x2Offset": -1},
     "encoding": {
      "x": {"field": "start", "type": "nominal", "bandPosition": 0, "axis": null, "scale": {"domain": ["J01","J03","J25","J28","J35","MAGs7371","B009","B056","B118","I11","GCA001652025","GCA001652055","GCA001654615","MAGs6121","GCA016902635","MAGs5238","MAGs8896","GCA001436315","MAGs10232","MAGs10238","MAGs10952","MAGs2168","MAGs2235","MAGs5566","MAGs9092","MAGs9747"], "paddingInner": 0, "paddingOuter": 0}},
      "x2": {"field": "end", "bandPosition": 1},
      "fill": {"field": "grp", "type": "nominal", "legend": null, "scale": {"domain": ["Jejunum","Ileum","Caeca","Faeces"], "range": ["#dde9e7","#e4e6d8","#fdefdb","#e6cccb"]}}}},
    {"transform": [{"filter": "datum.even"}],
     "mark": {"type": "text", "font": "Roboto", "fontSize": 16, "color": "#333333"},
     "encoding": {
      "x": {"field": "mid", "type": "nominal", "bandPosition": 1, "axis": null},
      "text": {"field": "grp"}}},
    {"transform": [{"filter": "!datum.even"}],
     "mark": {"type": "text", "font": "Roboto", "fontSize": 16, "color": "#333333"},
     "encoding": {
      "x": {"field": "mid", "type": "nominal", "bandPosition": 0.5, "axis": null},
      "text": {"field": "grp"}}}
   ]},
  {"width": 490, "height": 170,
   "layer": [
    {"data": {"name": "heat"},
     "mark": {"type": "rect", "stroke": "white", "strokeWidth": 3},
     "encoding": {
      "x": {"field": "s", "type": "nominal", "axis": null, "scale": {"domain": ["J01","J03","J25","J28","J35","MAGs7371","B009","B056","B118","I11","GCA001652025","GCA001652055","GCA001654615","MAGs6121","GCA016902635","MAGs5238","MAGs8896","GCA001436315","MAGs10232","MAGs10238","MAGs10952","MAGs2168","MAGs2235","MAGs5566","MAGs9092","MAGs9747"], "paddingInner": 0, "paddingOuter": 0}},
      "y": {"field": "p", "type": "nominal", "scale": {"domain": ["Citrate cycle","Entner-Doudoroff pathway","Embden-Meyerhof pathway","Pentose phosphate pathway","Reductive acetyl-CoA pathway","Reductive citrate cycle","Reductive pentose phosphate cycle","Complex II","Complex V"], "paddingInner": 0, "paddingOuter": 0},
            "axis": {"orient": "left", "title": "Pathway completion", "titleFont": "Roboto", "titleFontSize": 18.5, "titleFontWeight": "bold", "titleColor": "#111111", "titlePadding": 4, "minExtent": 268, "maxExtent": 268, "offset": 6, "ticks": true, "tickSize": 4, "tickWidth": 1.5, "tickColor": "#333333", "labelPadding": 3, "labelFont": "Roboto", "labelFontSize": 16.8, "labelColor": "#222222", "labelLimit": 400, "domain": false}},
      "fill": {"field": "v", "type": "quantitative", "legend": null, "scale": {"domain": [0,25,50,70,85,100], "range": ["#f4f4f4","#fde8b7","#ffd15e","#b4c385","#5db497","#008a94"], "interpolate": "rgb"}}}},
    {"data": {"name": "mods"},
     "mark": {"type": "rect", "opacity": 0},
     "encoding": {
      "y": {"field": "m", "type": "nominal", "scale": {"domain": ["TCA cycle","Glucose-6P => pyruvate","Glucose => pyruvate","Pentose phosphate cycle","Wood-Ljungdahl pathway","Arnon-Buchanan cycle","Calvin cycle","Fumarate reductase","F-type ATPase, prokaryotes"], "paddingInner": 0, "paddingOuter": 0},
            "axis": {"orient": "right", "title": null, "ticks": false, "domain": false, "labelPadding": 4, "labelFont": "Liberation Sans", "labelFontSize": 17, "labelColor": "#111111", "labelLimit": 400}}}}
   ],
   "resolve": {"scale": {"y": "independent"}, "axis": {"y": "independent"}}},
  {"width": 490, "height": 40, "data": {"values": [{}]}, "mark": {"type": "point", "opacity": 0}},
  {"width": 490, "height": 202,
   "layer": [
    {"data": {"name": "groups"},
     "mark": {"type": "rect", "xOffset": 1, "x2Offset": -1},
     "encoding": {
      "x": {"field": "start", "type": "nominal", "bandPosition": 0, "axis": null, "scale": {"domain": ["J01","J03","J25","J28","J35","MAGs7371","B009","B056","B118","I11","GCA001652025","GCA001652055","GCA001654615","MAGs6121","GCA016902635","MAGs5238","MAGs8896","GCA001436315","MAGs10232","MAGs10238","MAGs10952","MAGs2168","MAGs2235","MAGs5566","MAGs9092","MAGs9747"], "paddingInner": 0, "paddingOuter": 0}},
      "x2": {"field": "end", "bandPosition": 1},
      "fill": {"field": "grp", "type": "nominal", "legend": null, "scale": {"domain": ["Jejunum","Ileum","Caeca","Faeces"], "range": ["#dde9e7","#e4e6d8","#fdefdb","#e6cccb"]}}}},
    {"data": {"name": "genes"},
     "mark": {"type": "rect", "stroke": "white", "strokeWidth": 3},
     "encoding": {
      "x": {"field": "s", "type": "nominal", "axis": null},
      "y": {"field": "g", "type": "nominal", "scale": {"domain": ["Arabinose cleavage","Beta-galactan (pectic galactan)","Beta-mannan","Chitin","Alcohol production","Acetate, phosphate acetyltransferase","Acetate, kinase","Acetate, acetyl-CoA synthetase","Lactate D","Lactate L"], "paddingInner": 0, "paddingOuter": 0.372},
            "axis": {"orient": "right", "title": null, "ticks": false, "domain": false, "labelPadding": 4, "labelFont": "Liberation Sans", "labelFontSize": 17, "labelColor": "#111111", "labelLimit": 400}},
      "fill": {"field": "st", "type": "nominal", "scale": {"domain": ["Presence","Absence"], "range": ["#5e7c9c","#ffffff"]},
               "legend": {"orient": "none", "legendX": 725, "legendY": 172, "title": null, "direction": "vertical", "symbolType": "square", "symbolSize": 620, "symbolStrokeColor": "#999999", "symbolStrokeWidth": 1.5, "labelFont": "Roboto", "labelFontSize": 18.5, "labelColor": "#222222", "labelOffset": 11, "rowPadding": 9, "padding": 0}}}},
    {"data": {"name": "brackets"},
     "mark": {"type": "rule", "color": "#333333", "strokeWidth": 1.5, "xOffset": -8, "yOffset": 5, "y2Offset": -5},
     "encoding": {
      "x": {"datum": "J01", "bandPosition": 0},
      "y": {"field": "first", "type": "nominal", "bandPosition": 0,
            "axis": {"orient": "left", "title": "Genes absence/presence", "labels": false, "ticks": false, "domain": false, "titleFont": "Roboto", "titleFontSize": 18.5, "titleFontWeight": "bold", "titleColor": "#111111", "titlePadding": 4, "minExtent": 268, "maxExtent": 268, "offset": 6}},
      "y2": {"field": "last", "bandPosition": 1}}},
    {"data": {"name": "brackets"},
     "mark": {"type": "rule", "color": "#333333", "strokeWidth": 1.5, "xOffset": -8.7, "x2Offset": -2, "yOffset": 5},
     "encoding": {
      "x": {"datum": "J01", "bandPosition": 0},
      "x2": {"datum": "J01", "bandPosition": 0},
      "y": {"field": "first", "type": "nominal", "bandPosition": 0, "axis": null}}},
    {"data": {"name": "brackets"},
     "mark": {"type": "rule", "color": "#333333", "strokeWidth": 1.5, "xOffset": -8.7, "x2Offset": -2, "yOffset": -5},
     "encoding": {
      "x": {"datum": "J01", "bandPosition": 0},
      "x2": {"datum": "J01", "bandPosition": 0},
      "y": {"field": "last", "type": "nominal", "bandPosition": 1, "axis": null}}},
    {"data": {"name": "brackets"},
     "mark": {"type": "text", "align": "right", "baseline": "middle", "dx": -14, "font": "Roboto", "fontSize": 16.2, "color": "#222222"},
     "encoding": {
      "x": {"datum": "J01", "bandPosition": 0},
      "y": {"field": "mid", "type": "nominal", "bandPosition": 0.78, "axis": null},
      "text": {"field": "grp"}}}
   ],
   "resolve": {"scale": {"fill": "independent"}, "axis": {"y": "independent"}}},
  {"width": 490, "height": 130,
   "layer": [
    {"data": {"name": "groups"},
     "mark": {"type": "rect", "cornerRadiusBottomLeft": 8, "cornerRadiusBottomRight": 8, "xOffset": 1, "x2Offset": -1},
     "encoding": {
      "x": {"field": "start", "type": "nominal", "bandPosition": 0, "axis": null, "scale": {"domain": ["J01","J03","J25","J28","J35","MAGs7371","B009","B056","B118","I11","GCA001652025","GCA001652055","GCA001654615","MAGs6121","GCA016902635","MAGs5238","MAGs8896","GCA001436315","MAGs10232","MAGs10238","MAGs10952","MAGs2168","MAGs2235","MAGs5566","MAGs9092","MAGs9747"], "paddingInner": 0, "paddingOuter": 0}},
      "x2": {"field": "end", "bandPosition": 1},
      "fill": {"field": "grp", "type": "nominal", "legend": null, "scale": {"domain": ["Jejunum","Ileum","Caeca","Faeces"], "range": ["#dde9e7","#e4e6d8","#fdefdb","#e6cccb"]}}}},
    {"data": {"name": "samples"},
     "mark": {"type": "text", "angle": 270, "align": "right", "baseline": "middle", "dx": -3, "font": "Liberation Sans", "fontSize": 17, "color": "#22466e"},
     "encoding": {
      "x": {"field": "s", "type": "nominal", "axis": null},
      "y": {"datum": 1, "type": "quantitative", "scale": {"domain": [0, 1]}, "axis": null},
      "text": {"field": "s"}}}
   ]}
]},
{"width": 160, "height": 198,
 "title": {"text": "Pathway coverage", "font": "Roboto", "fontSize": 18, "fontWeight": "bold", "color": "#111111", "offset": -28, "anchor": "middle", "dx": -7},
 "data": {"name": "pie"},
 "transform": [{"window": [{"op": "row_number", "as": "rk"}]}],
 "encoding": {
  "theta": {"field": "n", "type": "quantitative", "stack": true, "scale": {"range": [0.5236, 6.8068]}},
  "order": {"field": "rk", "type": "quantitative"},
  "color": {"field": "level", "type": "nominal", "legend": null, "scale": {"domain": ["100%","0%","25%","50%","70%","85%"], "range": ["#008a94","#fafafa","#fde8b7","#ffd15e","#b4c385","#5db497"]}}},
 "layer": [
  {"mark": {"type": "arc", "outerRadius": 43, "stroke": "white", "strokeWidth": 3}},
  {"mark": {"type": "arc", "outerRadius": 41, "fillOpacity": 0, "strokeWidth": 1.5},
   "encoding": {"stroke": {"condition": {"test": "datum.level === '0%'", "value": "#d3d3d3"}, "value": "transparent"}}},
  {"mark": {"type": "text", "radius": 57, "font": "Roboto", "fontSize": 17,
            "align": {"expr": "datum.level === '100%' || datum.level === '0%' ? 'left' : (datum.level === '50%' || datum.level === '70%' ? 'right' : 'center')"},
            "dy": {"expr": "datum.level === '100%' || datum.level === '70%' ? 13 : 2"}},
   "encoding": {"text": {"field": "level"}, "color": {"value": "#222222"}}}
 ]}
]
}
